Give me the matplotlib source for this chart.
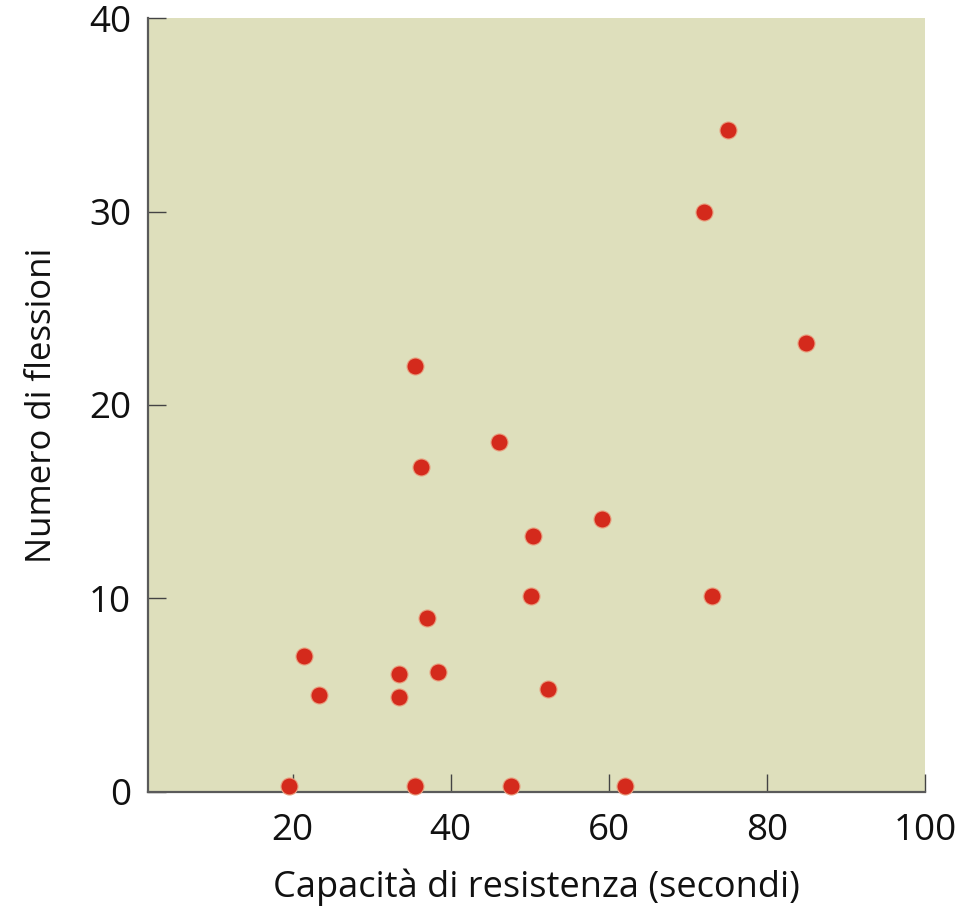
import numpy as np
import matplotlib.pyplot as plt

# capacità di resistenza (secondi) e numero di flessioni
resistenza = [19.5, 21.4, 23.3, 33.4, 33.4, 35.5, 36.3, 37.0, 38.4, 35.5, 46.1,
              47.6, 50.4, 50.2, 52.3, 59.2, 62.0, 72.0, 75.1, 73.1, 85.0]
flessioni = [0.3, 7.0, 5.0, 6.1, 4.9, 22.0, 16.8, 9.0, 6.2, 0.3, 18.1,
             0.3, 13.2, 10.1, 5.3, 14.1, 0.3, 30.0, 34.2, 10.1, 23.2]

x_ticks = [20, 40, 60, 80, 100]
y_ticks = [0, 10, 20, 30, 40]

plt.rcParams['font.family'] = ['Open Sans', 'DejaVu Sans']

fig = plt.figure(figsize=(9.61, 9.07), dpi=100)
ax = fig.add_axes([0.154, 0.127, 0.8085, 0.853])
ax.set_facecolor('#dedfbc')

ax.scatter(resistenza, flessioni, s=150, color='#d42a1c', edgecolors='#e8a080',
           linewidths=0.8, zorder=3, clip_on=False)

ax.set_xlim(1.7, 100)
ax.set_ylim(0, 40)
ax.set_xticks(x_ticks)
ax.set_yticks(y_ticks)

for side in ['top', 'right']:
    ax.spines[side].set_visible(False)
for side in ['left', 'bottom']:
    ax.spines[side].set_color('#5a5a5a')
    ax.spines[side].set_linewidth(1.6)

ax.tick_params(axis='x', pad=15)
ax.tick_params(axis='y', pad=12)
ax.tick_params(direction='in', length=13, width=1.0, color='#444444',
               labelsize=26.5, labelcolor='#111111')

ax.set_xlabel('Capacità di resistenza (secondi)', fontsize=26, color='#111111', labelpad=14)
ax.set_ylabel('Numero di flessioni', fontsize=25, color='#111111', labelpad=22)

plt.savefig('out.png', dpi=100)
